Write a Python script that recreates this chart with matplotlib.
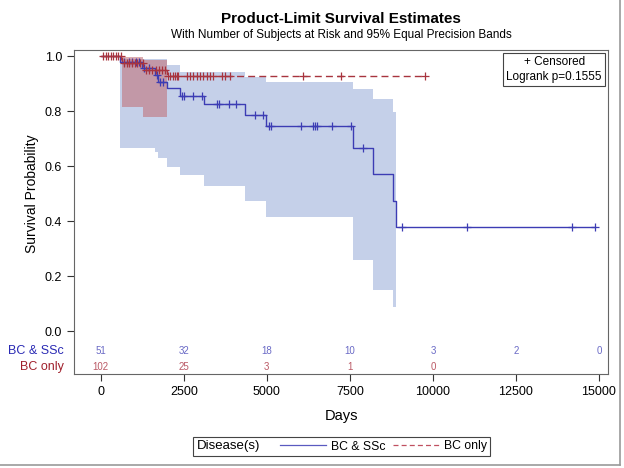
import matplotlib
matplotlib.use("Agg")
import matplotlib.pyplot as plt
import matplotlib.transforms as mtransforms
from matplotlib.lines import Line2D
from matplotlib.patches import Rectangle

plt.rcParams['font.family'] = ['Liberation Sans', 'DejaVu Sans']

# Kaplan-Meier steps (time in days, survival after the step)
ssc_times = [0, 590, 1234, 1635, 1735, 1987, 2387, 3120, 4344, 4976, 7585, 8207, 8800, 8900, 14880]
ssc_surv = [1.0, 0.979, 0.955, 0.931, 0.907, 0.883, 0.855, 0.825, 0.786, 0.745, 0.664, 0.570, 0.474, 0.379, 0.379]

bc_times = [0, 632, 1283, 1987, 9762]
bc_surv = [1.0, 0.973, 0.951, 0.927, 0.927]

# 95% equal precision bands (interval edges, lower / upper per interval)
ssc_band_t = [590, 1234, 1635, 1735, 1987, 2387, 3120, 4344, 4976, 7585, 8207, 8800, 8900]
ssc_band_lo = [0.664, 0.664, 0.652, 0.628, 0.597, 0.567, 0.527, 0.473, 0.416, 0.258, 0.149, 0.088]
ssc_band_hi = [0.990, 0.990, 0.990, 0.990, 0.967, 0.941, 0.941, 0.925, 0.907, 0.880, 0.844, 0.797]

bc_band_t = [632, 1283, 1987]
bc_band_lo = [0.816, 0.780]
bc_band_hi = [0.997, 0.987]

# censored observations
ssc_cens_t = [700, 850, 950, 1050, 1150, 1300, 1450, 1685, 1785, 1885,
              2438, 2507, 2769, 3040, 3511, 3571, 3872, 4073, 4645, 4896,
              5076, 5118, 6020, 6382, 6451, 6521, 6954, 7535, 7906,
              9061, 11017, 14178, 14880]
bc_cens_t = [80, 150, 230, 300, 380, 450, 520, 600,
             700, 780, 860, 940, 1020, 1100, 1180, 1260,
             1350, 1450, 1550, 1650, 1750, 1850, 1950,
             2035, 2086, 2186, 2237, 2287, 2336, 2589, 2688, 2788, 2890,
             2989, 3089, 3191, 3290, 3390, 3642, 3742, 3892, 6100, 7240, 9762]

# numbers at risk
risk_t = [0, 2500, 5000, 7500, 10000, 12500, 15000]
ssc_risk = [51, 32, 18, 10, 3, 2, 0]
bc_risk = [102, 25, 3, 1, 0]

blue = '#3c3cb4'
red = '#a8343e'
blue_fill = '#c5d0e9'
red_fill = '#c06a72'


def surv_at(t, times, surv):
    s = surv[0]
    for ti, si in zip(times, surv):
        if ti <= t:
            s = si
    return s


fig = plt.figure(figsize=(6.24, 4.68), dpi=100)
ax = fig.add_axes([74 / 624, 1 - 374 / 468, 534 / 624, 324 / 468])

# bands
ax.fill_between(ssc_band_t, ssc_band_lo + [ssc_band_lo[-1]], ssc_band_hi + [ssc_band_hi[-1]],
                step='post', color=blue_fill, linewidth=0)
ax.fill_between(bc_band_t, bc_band_lo + [bc_band_lo[-1]], bc_band_hi + [bc_band_hi[-1]],
                step='post', color=red_fill, alpha=0.55, linewidth=0)

# curves
ax.step(ssc_times, ssc_surv, where='post', color=blue, linewidth=1.0)
ax.step(bc_times, bc_surv, where='post', color=red, linewidth=1.0, linestyle=(0, (5, 3)))

ax.plot(ssc_cens_t, [surv_at(t, ssc_times, ssc_surv) for t in ssc_cens_t], '+',
        color=blue, markersize=6, markeredgewidth=0.9)
ax.plot(bc_cens_t, [surv_at(t, bc_times, bc_surv) for t in bc_cens_t], '+',
        color=red, markersize=6, markeredgewidth=0.9)

ax.set_xlim(-804, 15271)
ax.set_ylim(-0.156, 1.022)
ax.set_xticks(risk_t)
ax.set_xticklabels([str(t) for t in risk_t])
ax.set_yticks([0.0, 0.2, 0.4, 0.6, 0.8, 1.0])
ax.set_yticklabels(['0.0', '0.2', '0.4', '0.6', '0.8', '1.0'])
ax.tick_params(direction='out', length=5, width=0.8, labelsize=9, colors='#333333',
               labelcolor='black')
for sp in ax.spines.values():
    sp.set_color('#666666')
    sp.set_linewidth(0.8)
ax.set_xlabel('Days', fontsize=10.5, labelpad=8)

# at-risk table inside the plot area
for t, n in zip(risk_t, ssc_risk):
    ax.text(t, -0.073, str(n), color='#6a6ac6', fontsize=7, ha='center', va='center')
for t, n in zip(risk_t, bc_risk):
    ax.text(t, -0.131, str(n), color='#bb5a66', fontsize=7, ha='center', va='center')
trans = mtransforms.blended_transform_factory(ax.transAxes, ax.transData)
ax.text(-0.019, -0.073, 'BC & SSc', color='#2a2ab4', fontsize=9, ha='right', va='center',
        transform=trans)
ax.text(-0.019, -0.131, 'BC only', color='#a0202c', fontsize=9, ha='right', va='center',
        transform=trans)

# censored / logrank box
ax.text(0.899, 0.94, '+ Censored\nLogrank p=0.1555', transform=ax.transAxes,
        ha='center', va='center', multialignment='center', fontsize=8.5, linespacing=1.25,
        bbox=dict(boxstyle='square,pad=0.25', facecolor='white', edgecolor='#444444',
                  linewidth=0.8))

# titles and y label
fig.text(341 / 624, 1 - 19 / 468, 'Product-Limit Survival Estimates', ha='center',
         va='center', fontsize=11, fontweight='bold')
fig.text(341 / 624, 1 - 35 / 468,
         'With Number of Subjects at Risk and 95% Equal Precision Bands',
         ha='center', va='center', fontsize=8.5)
fig.text(32 / 624, 1 - 194 / 468, 'Survival Probability', rotation=90, ha='center',
         va='center', fontsize=10)

# bottom legend
fig.patches.append(Rectangle((193 / 624, 1 - 456 / 468), 297 / 624, 19 / 468,
                             transform=fig.transFigure, facecolor='white',
                             edgecolor='#444444', linewidth=0.8))
fig.text(197 / 624, 1 - 446.5 / 468, 'Disease(s)', ha='left', va='center', fontsize=9.5)
handles = [Line2D([], [], color='#5a5ac0', linewidth=0.9, label='BC & SSc'),
           Line2D([], [], color='#c05060', linewidth=0.9, linestyle=(0, (4, 2.5)), label='BC only')]
fig.legend(handles=handles, loc='center right', bbox_to_anchor=(487 / 624, 1 - 446.5 / 468),
           ncol=2, frameon=False, fontsize=8.8, handlelength=3.8, handletextpad=0.4,
           columnspacing=0.6, borderpad=0, borderaxespad=0)

# screenshot frame lines
fig.add_artist(Line2D([620 / 624, 620 / 624], [1 - 465 / 468, 1], transform=fig.transFigure,
                      color='#9a9a9a', linewidth=1.2))
fig.add_artist(Line2D([0, 620 / 624], [1 - 465 / 468, 1 - 465 / 468], transform=fig.transFigure,
                      color='#9a9a9a', linewidth=1.2))

fig.savefig('out.png', dpi=100)
